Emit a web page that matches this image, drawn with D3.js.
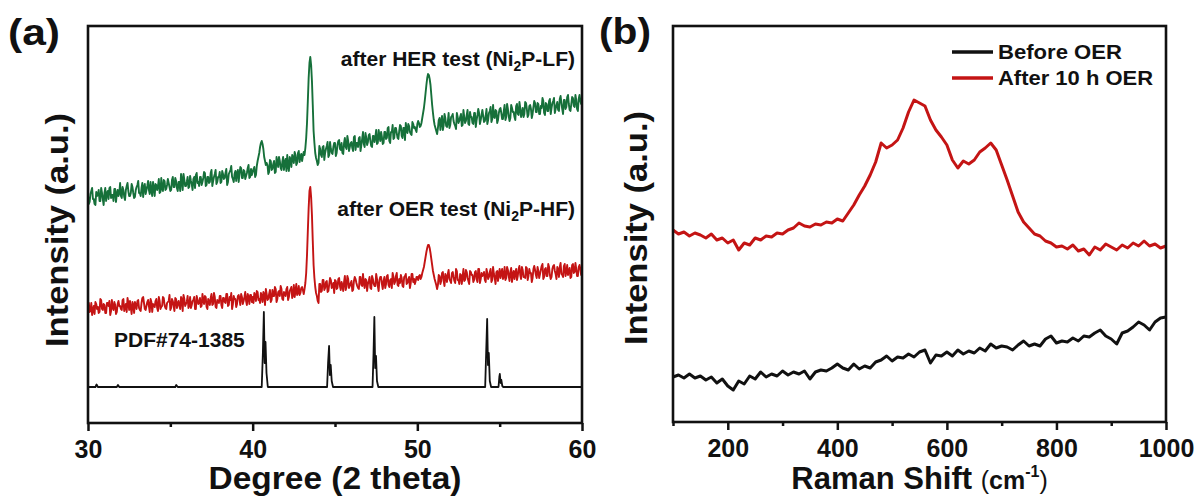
<!DOCTYPE html>
<html><head><meta charset="utf-8">
<script src="https://cdn.jsdelivr.net/npm/d3@7"></script>
<style>
body{margin:0;background:#fff}
svg{display:block}
text{font-family:"Liberation Sans",Arial,sans-serif;font-weight:bold;fill:#111}
</style>
</head><body><svg id="chart" width="1197" height="499"></svg>
<script>
// ---------- Panel (a): XRD ----------
// values sampled every 0.1 deg from 30 (grid) and at the half-steps 30.05 + 0.1*i (mid)
const xrdStart = 30, xrdStep = 0.1;
const herValues = [
228,221,232,224,219,231,228,222,235,224,
230,222,232,235,225,228,234,221,233,230,
227,236,226,233,240,227,230,236,225,233,
238,230,227,240,236,229,237,233,241,227,
235,239,233,244,231,234,243,233,238,240,
232,243,236,245,235,241,232,243,249,237,
241,235,247,239,244,235,250,241,246,238,
245,250,238,246,241,253,242,249,239,246,
251,241,249,245,254,241,251,257,244,249,
242,253,249,255,245,252,247,255,245,254,
251,256,248,262,270,280,279,266,258,258,
251,262,254,262,251,261,266,255,261,253,
264,268,252,264,268,260,268,260,272,266,
262,271,275,300,345,366,342,292,270,262,
260,274,266,277,270,277,266,281,270,276,
280,270,282,274,280,269,285,274,282,276,
281,272,287,280,276,286,278,291,276,285,
281,289,277,287,281,293,280,287,291,279,
291,284,295,282,291,298,285,295,285,292,
297,285,295,300,290,297,289,301,295,293,
299,300,297,305,315,330,345,348,338,318,
303,295,289,303,293,307,298,305,296,310,
298,307,302,297,310,300,306,297,313,300,
308,299,311,306,299,310,303,314,299,308,
307,302,314,303,312,301,318,305,312,303,
314,310,304,318,306,314,302,318,311,306,
317,309,321,306,315,309,320,306,317,314,
309,322,311,320,309,317,325,310,320,312,
322,309,320,325,314,321,312,327,314,323,
314,326,319,312,326,317,328,314,324,322,
325];
const herMidValues = [
219,229,235,224,218,227,233,222,230,218,
235,230,224,236,228,222,234,229,227,240,
225,233,223,237,232,227,239,230,226,236,
242,230,235,226,239,233,242,229,233,241,
227,238,237,230,245,232,242,234,244,236,
233,246,236,242,232,241,249,233,243,237,
246,236,242,233,246,248,240,237,246,241,
251,237,246,240,250,237,246,253,241,246,
240,252,244,250,238,249,253,246,241,252,
250,241,256,245,253,244,250,258,246,248,
254,246,257,266,276,282,274,262,260,249,
263,253,259,250,266,256,262,253,266,261,
252,257,266,256,265,271,258,270,261,269,
267,268,285,322,360,358,318,280,265,258,
277,268,276,263,274,281,268,274,269,280,
267,278,283,273,270,280,276,287,272,280,
275,286,273,280,285,272,284,279,290,278,
288,282,276,287,286,279,293,282,286,280,
291,285,296,280,291,284,295,290,284,298,
287,295,283,293,299,291,288,299,296,291,
302,296,300,310,322,338,349,344,328,310,
298,292,295,305,301,293,309,297,301,295,
306,309,299,294,306,302,309,298,306,302,
313,298,306,300,310,296,308,310,303,313,
301,307,299,310,316,304,306,313,300,310,
315,304,312,303,319,307,305,315,311,303,
319,308,315,310,306,321,314,308,318,305,
316,320,311,319,309,315,322,308,319,312,
324,315,322,310,318,313,324,320,309,323,
316,328,313,319,325,316,323,312,328,319];
const oerValues = [
117,111,120,113,109,119,116,111,123,113,
118,110,120,122,112,115,121,109,119,117,
114,123,112,119,125,113,115,121,110,118,
122,115,112,125,120,113,121,117,124,111,
118,122,115,126,114,117,125,115,120,122,
113,124,117,125,115,122,114,124,128,117,
121,115,126,118,123,114,127,119,125,117,
123,127,116,124,118,129,119,126,115,122,
127,118,125,121,129,117,126,130,119,124,
116,127,124,129,119,126,122,129,119,128,
126,130,122,131,124,130,121,129,134,123,
129,121,133,127,134,124,132,137,124,131,
127,136,126,134,125,138,132,128,137,130,
136,129,140,168,215,236,208,158,136,127,
120,139,132,143,135,142,132,145,135,140,
143,134,144,137,141,132,147,136,144,137,
142,133,146,140,135,146,138,149,135,143,
139,146,134,144,137,149,137,143,146,134,
146,139,148,136,144,150,139,147,138,144,
148,137,146,149,140,146,140,149,144,142,
146,147,144,150,156,166,175,178,170,158,
148,141,134,148,139,150,142,149,141,153,
142,150,146,140,152,143,149,139,154,143,
151,142,152,148,141,151,144,154,140,150,
148,143,154,144,151,141,156,145,151,142,
154,150,144,156,145,153,142,155,149,144,
154,147,157,144,153,146,156,143,154,150,
145,157,148,156,145,153,159,146,155,147,
156,144,154,158,149,156,146,160,148,157,
147,158,152,145,158,150,160,147,156,154,
156];
const oerMidValues = [
120,112,108,117,121,114,110,124,114,119,
110,120,117,108,123,113,118,111,122,117,
113,124,115,111,120,122,109,118,121,114,
123,113,120,126,114,117,123,111,121,119,
116,124,112,122,116,126,118,114,121,128,
115,122,112,124,120,117,126,112,124,119,
127,117,115,122,126,114,123,120,116,129,
119,126,114,122,125,118,130,116,123,120,
127,115,125,120,129,118,123,114,127,124,
119,128,118,126,122,131,118,126,128,121,
120,128,132,123,120,127,131,118,129,124,
133,123,127,136,121,131,127,134,123,129,
134,123,132,136,128,126,139,130,128,135,
133,134,150,192,232,226,182,145,130,122,
139,131,143,133,141,131,139,143,136,130,
142,135,145,133,138,141,133,147,135,140,
132,142,144,137,134,146,137,140,144,132,
142,135,147,139,137,144,132,146,139,142,
135,147,138,143,135,146,141,150,137,140,
145,136,147,139,144,135,149,141,139,146,
143,148,146,153,161,171,178,175,164,152,
144,138,138,147,142,151,137,147,149,144,
140,151,142,154,143,139,148,147,142,153,
145,139,151,148,143,152,141,154,144,147,
151,141,150,146,154,143,149,139,152,149,
145,154,146,143,156,147,151,141,152,150,
143,154,148,156,146,145,155,147,150,141,
154,153,145,152,149,157,144,154,147,159,
148,146,157,152,144,154,156,149,146,159,
151,148,155,146,159,151,154,147,158,148];
const pdfPattern = [
[30,36],[30.45,36],[30.52,38.5],[30.6,36],[31.75,36],[31.82,38],[31.9,36],
[35.3,36],[35.36,38],[35.45,36],
[40.55,36],[40.62,70],[40.68,111],[40.73,60],[40.78,81],[40.84,50],[40.92,36],
[44.52,36],[44.58,60],[44.64,77],[44.69,48],[44.74,58],[44.8,42],[44.88,36],
[47.28,36],[47.34,70],[47.39,106],[47.44,55],[47.49,67],[47.55,42],[47.63,36],
[54.12,36],[54.18,70],[54.24,104],[54.29,58],[54.34,70],[54.4,42],[54.48,36],
[54.93,36],[54.98,46],[55.01,49],[55.06,40],[55.1,43],[55.16,37],[55.22,36],
[60,36]];
const xrdTicks = [30, 40, 50, 60];
const xrdMinorTicks = [35, 45, 55];

// ---------- Panel (b): Raman ----------
const ramanStart = 100, ramanStep = 10;
const ramanAfter = [
192,188,190,186,189,187,184,188,182,184,
179,182,172,179,177,184,182,186,185,189,
188,192,194,199,196,195,198,197,200,199,
203,201,209,217,227,236,247,260,279,274,
277,282,294,310,322,319,316,302,292,285,
277,262,254,261,258,262,270,274,279,272,
257,242,226,210,200,194,188,186,181,179,
175,176,173,177,171,173,167,175,172,178,
175,172,177,174,179,176,181,176,178,174,
176];
const ramanBefore = [
45,47,44,48,44,46,42,45,39,43,
36,32,41,38,46,43,50,45,48,46,
51,47,50,48,51,43,50,52,51,54,
58,54,52,58,53,56,54,60,62,66,
61,65,64,68,65,70,72,59,67,66,
70,66,72,68,71,69,74,71,78,74,
76,75,72,77,81,76,78,76,83,86,
79,81,80,84,81,86,85,89,92,86,
83,78,89,91,95,100,97,92,100,104,
105];
const ramanTicks = [200, 400, 600, 800, 1000];
const ramanMinorTicks = [100, 300, 500, 700, 900];
const legendLabels = ["Before OER", "After 10 h OER"];

const GREEN = "#16703a", RED = "#c41414", BLACK = "#111";

const svg = d3.select("#chart");
svg.append("rect").attr("width", 1197).attr("height", 499).attr("fill", "#fff");

const toPts = (vals, start, step) => vals.map((v, i) => [start + i * step, v]);
function mergeGrid(grid, mid, start, step) {
  const pts = [];
  grid.forEach((v, i) => {
    pts.push([start + i * step, v]);
    if (i < mid.length) pts.push([start + (i + 0.5) * step, mid[i]]);
  });
  return pts;
}

function txt(g, str, x, y, size, opts = {}) {
  const t = g.append("text").attr("x", x).attr("y", y).attr("font-size", size)
    .attr("text-anchor", opts.anchor || "start").text(str);
  if (opts.len) t.attr("textLength", opts.len).attr("lengthAdjust", "spacingAndGlyphs");
  return t;
}

function drawAxes(x, y0, ticks, minor) {
  const g = svg.append("g").attr("transform", `translate(0,${y0})`);
  g.call(d3.axisBottom(x).tickValues(ticks).tickSize(8).tickPadding(9).tickFormat(d3.format("d")));
  g.select(".domain").remove();
  g.selectAll(".tick line").attr("stroke", BLACK).attr("stroke-width", 2.5);
  g.selectAll(".tick text").attr("font-size", 25).attr("font-family", '"Liberation Sans",Arial,sans-serif')
    .attr("font-weight", "bold").attr("fill", BLACK);
  const gm = svg.append("g").attr("transform", `translate(0,${y0})`);
  gm.call(d3.axisBottom(x).tickValues(minor).tickSize(4).tickFormat(""));
  gm.select(".domain").remove();
  gm.selectAll(".tick line").attr("stroke", BLACK).attr("stroke-width", 2.5);
}

// ----- Panel a -----
const xa = d3.scaleLinear().domain([30, 60]).range([88, 582]);
const ya = d3.scaleLinear().domain([0, 397]).range([423, 26]);
const lineA = d3.line().x(d => xa(d[0])).y(d => ya(d[1]));

svg.append("path").datum(mergeGrid(herValues, herMidValues, xrdStart, xrdStep)).attr("d", lineA)
  .attr("fill", "none").attr("stroke", GREEN).attr("stroke-width", 1.9).attr("stroke-linejoin", "round");
svg.append("path").datum(mergeGrid(oerValues, oerMidValues, xrdStart, xrdStep)).attr("d", lineA)
  .attr("fill", "none").attr("stroke", RED).attr("stroke-width", 1.9).attr("stroke-linejoin", "round");
svg.append("path").datum(pdfPattern).attr("d", lineA)
  .attr("fill", "none").attr("stroke", BLACK).attr("stroke-width", 1.8).attr("stroke-linejoin", "round");

svg.append("rect").attr("x", xa(30)).attr("y", ya(397)).attr("width", xa(60) - xa(30))
  .attr("height", ya(0) - ya(397)).attr("fill", "none").attr("stroke", BLACK).attr("stroke-width", 2.6);
drawAxes(xa, ya(0), xrdTicks, xrdMinorTicks);

const ann1 = txt(svg, "after HER test (Ni", 575, 66, 21, {anchor: "end"});
ann1.append("tspan").attr("font-size", 14).attr("dy", 5).text("2");
ann1.append("tspan").attr("dy", -5).text("P-LF)");
const ann2 = txt(svg, "after OER test (Ni", 575, 216, 21, {anchor: "end"});
ann2.append("tspan").attr("font-size", 14).attr("dy", 5).text("2");
ann2.append("tspan").attr("dy", -5).text("P-HF)");
txt(svg, "PDF#74-1385", 114, 347, 21);

txt(svg, "(a)", 8, 45, 36, {len: 52});
txt(svg, "Degree (2 theta)", (xa(30) + xa(60)) / 2, 489, 31, {anchor: "middle", len: 253});
svg.append("text").attr("transform", "translate(68,230) rotate(-90)")
  .attr("text-anchor", "middle").attr("font-size", 32)
  .attr("textLength", 234).attr("lengthAdjust", "spacingAndGlyphs").text("Intensity (a.u.)");

// ----- Panel b -----
const xb = d3.scaleLinear().domain([100, 1000]).range([673, 1166]);
const yb = d3.scaleLinear().domain([0, 396]).range([422, 26]);
const lineB = d3.line().x(d => xb(d[0])).y(d => yb(d[1]));

svg.append("path").datum(toPts(ramanBefore, ramanStart, ramanStep)).attr("d", lineB)
  .attr("fill", "none").attr("stroke", BLACK).attr("stroke-width", 3).attr("stroke-linejoin", "round");
svg.append("path").datum(toPts(ramanAfter, ramanStart, ramanStep)).attr("d", lineB)
  .attr("fill", "none").attr("stroke", RED).attr("stroke-width", 3).attr("stroke-linejoin", "round");

svg.append("rect").attr("x", xb(100)).attr("y", yb(396)).attr("width", xb(1000) - xb(100))
  .attr("height", yb(0) - yb(396)).attr("fill", "none").attr("stroke", BLACK).attr("stroke-width", 2.6);
drawAxes(xb, yb(0), ramanTicks, ramanMinorTicks);

const legColors = [BLACK, RED];
legendLabels.forEach((lab, i) => {
  const yy = 52 + i * 26;
  svg.append("line").attr("x1", 952).attr("x2", 993).attr("y1", yy).attr("y2", yy)
    .attr("stroke", legColors[i]).attr("stroke-width", 3.5);
  txt(svg, lab, 998, yy + 7, 21, {len: i === 0 ? 124 : 155});
});

txt(svg, "(b)", 599, 44, 36, {len: 52});
const xt = svg.append("text").attr("x", (xb(100) + xb(1000)) / 2).attr("y", 489)
  .attr("text-anchor", "middle").attr("font-size", 31);
xt.append("tspan").text("Raman Shift ");
xt.append("tspan").attr("font-size", 25).attr("font-weight", "normal").text("(");
xt.append("tspan").attr("font-size", 25).text("cm");
xt.append("tspan").attr("font-size", 16).attr("dy", -12).text("-1");
xt.append("tspan").attr("font-size", 25).attr("font-weight", "normal").attr("dy", 12).text(")");
svg.append("text").attr("transform", "translate(647,228) rotate(-90)")
  .attr("text-anchor", "middle").attr("font-size", 32)
  .attr("textLength", 234).attr("lengthAdjust", "spacingAndGlyphs").text("Intensity (a.u.)");
</script>
</body></html>
